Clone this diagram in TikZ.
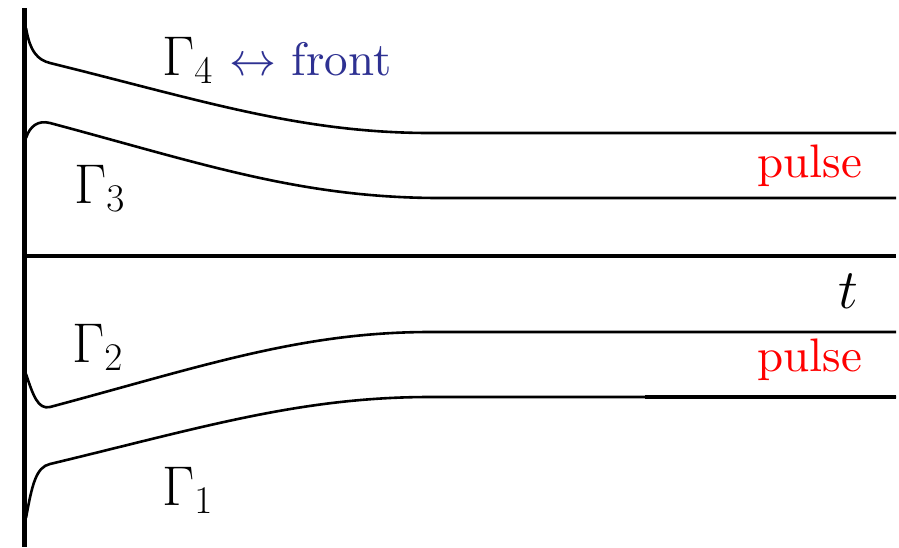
\RequirePackage{fix-cm}
\documentclass[tikz,border=0pt]{standalone}
\usepackage[no-math]{fontspec}
\newfontfamily\wordfont{lmroman10-regular.otf}
\usepackage{xcolor}
\definecolor{pulsered}{HTML}{FF0000}
\definecolor{frontblue}{HTML}{2E3192}

\begin{document}
\begin{tikzpicture}[x=1pt, y=-1pt,
  curve/.style={line width=2.6pt},
  gammalabel/.style={anchor=base west, inner sep=0pt, font=\fontsize{56}{60}\selectfont},
  wordlabel/.style={anchor=base west, inner sep=0pt, font=\wordfont\fontsize{47}{52}\selectfont}]

\useasboundingbox (0,0) rectangle (899,547);

% Axes: vertical on the left, t-axis in the middle
\draw[line width=5.5pt] (24.5,8) -- (24.5,547);
\draw[line width=4pt] (24,256) -- (896,256);

% Upper pair of curves (Gamma_4 and Gamma_3)
\draw[curve] (26,28) .. controls (30,52) and (38,60) .. (50,63)
  .. controls (200,100) and (300,133) .. (430,133) -- (896,133);
\draw[curve] (26,138) .. controls (30,126) and (38,120) .. (50,123)
  .. controls (200,163) and (300,198) .. (440,198) -- (896,198);

% Lower pair of curves (Gamma_2 and Gamma_1)
\draw[curve] (26,374) .. controls (33,395) and (38,410) .. (50,407)
  .. controls (200,367) and (300,332) .. (430,332) -- (896,332);
\draw[curve] (26,518) .. controls (32,485) and (36,467) .. (50,464)
  .. controls (200,428) and (300,397) .. (430,397) -- (896,397);
\draw[line width=4.5pt] (645,397) -- (896,397);

% Labels
\node[gammalabel] (g4) at (162,75) {$\Gamma_4$};
\node[wordlabel, text=frontblue] (front) at (229,75) {$\leftrightarrow$ front};
\node[gammalabel] (g3) at (74,203) {$\Gamma_3$};
\node[gammalabel] (g2) at (72,362) {$\Gamma_2$};
\node[gammalabel] (g1) at (162,505) {$\Gamma_1$};
\node[gammalabel] (t) at (838,308) {$t$};
\node[wordlabel, text=pulsered] (pulseup) at (757,177) {pulse};
\node[wordlabel, text=pulsered] (pulselow) at (757,371) {pulse};

\end{tikzpicture}
\end{document}
